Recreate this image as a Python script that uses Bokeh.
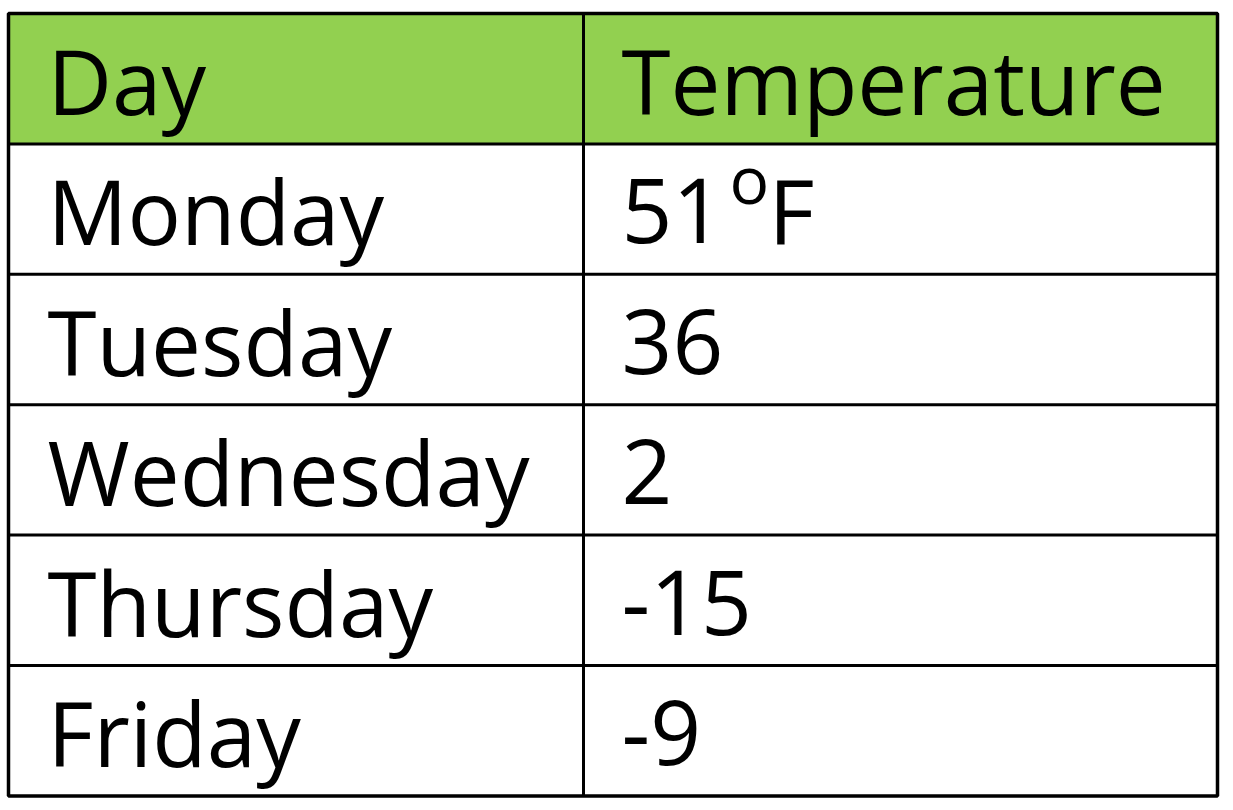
from bokeh.plotting import figure
from bokeh.models import Range1d, ColumnDataSource
from bokeh.core.properties import value
from bokeh.embed import file_html
from bokeh.resources import INLINE

# ---- data ----
headers = ["Day", "Temperature"]
days = ["Monday", "Tuesday", "Wednesday", "Thursday", "Friday"]
temps = ["51", "36", "2", "-15", "-9"]
unit_sup = ["o", "", "", "", ""]
unit_tail = ["F", "", "", "", ""]

# ---- layout (pixel coordinates; y grows downward) ----
W, H = 1225, 802
left, right, split = 8, 1217, 583
top, row_h = 13, 130.4
n_rows = len(days) + 1
bottom = top + row_h * n_rows
HEADER_BG = "#92D050"
FONT = "Open Sans"
FS = "89px"
BASE_OFF = 67   # baseline offset within each row (empirical for renderer)

p = figure(width=W, height=H, output_backend="svg", toolbar_location=None,
           x_range=Range1d(0, W), y_range=Range1d(H, 0),
           min_border=0, outline_line_color=None)
p.axis.visible = False
p.grid.visible = False
p.background_fill_color = "white"
p.border_fill_color = "white"

# header background
p.quad(left=[left], right=[right], top=[top], bottom=[top + row_h],
       fill_color=HEADER_BG, line_color=None)

# grid lines
ys = [top + row_h * i for i in range(1, n_rows)]
p.segment(x0=[left] * len(ys), x1=[right] * len(ys), y0=ys, y1=ys,
          line_color="black", line_width=3)
p.segment(x0=[split], x1=[split], y0=[top], y1=[bottom],
          line_color="black", line_width=3)
# outer border
p.quad(left=[left], right=[right], top=[top], bottom=[bottom],
       fill_color=None, line_color="black", line_width=3.5)

# texts
col1_x = 47
col2_x = 621
row_tops = [top + row_h * i for i in range(n_rows)]

src1 = ColumnDataSource(dict(x=[col1_x] * n_rows,
                             y=[t + BASE_OFF for t in row_tops],
                             t=[headers[0]] + days))
p.text(x="x", y="y", text="t", source=src1, text_font=value(FONT),
       text_font_size=FS, text_baseline="alphabetic", text_align="left",
       text_color="black")

src2 = ColumnDataSource(dict(x=[col2_x] * n_rows,
                             y=[t + BASE_OFF for t in row_tops],
                             t=[headers[1]] + temps))
p.text(x="x", y="y", text="t", source=src2, text_font=value(FONT),
       text_font_size=FS, text_baseline="alphabetic", text_align="left",
       text_color="black")

# superscript unit for first data row
sup_rows = [i for i, s in enumerate(unit_sup) if s]
p.text(x=[729] * len(sup_rows),
       y=[row_tops[i + 1] + BASE_OFF - 33 for i in sup_rows],
       text=[unit_sup[i] for i in sup_rows], text_font=value(FONT),
       text_font_size="66px", text_baseline="alphabetic", text_align="left",
       text_color="black")
p.text(x=[768] * len(sup_rows),
       y=[row_tops[i + 1] + BASE_OFF for i in sup_rows],
       text=[unit_tail[i] for i in sup_rows], text_font=value(FONT),
       text_font_size=FS, text_baseline="alphabetic", text_align="left",
       text_color="black")

open("out.html", "w").write(file_html(p, INLINE))
